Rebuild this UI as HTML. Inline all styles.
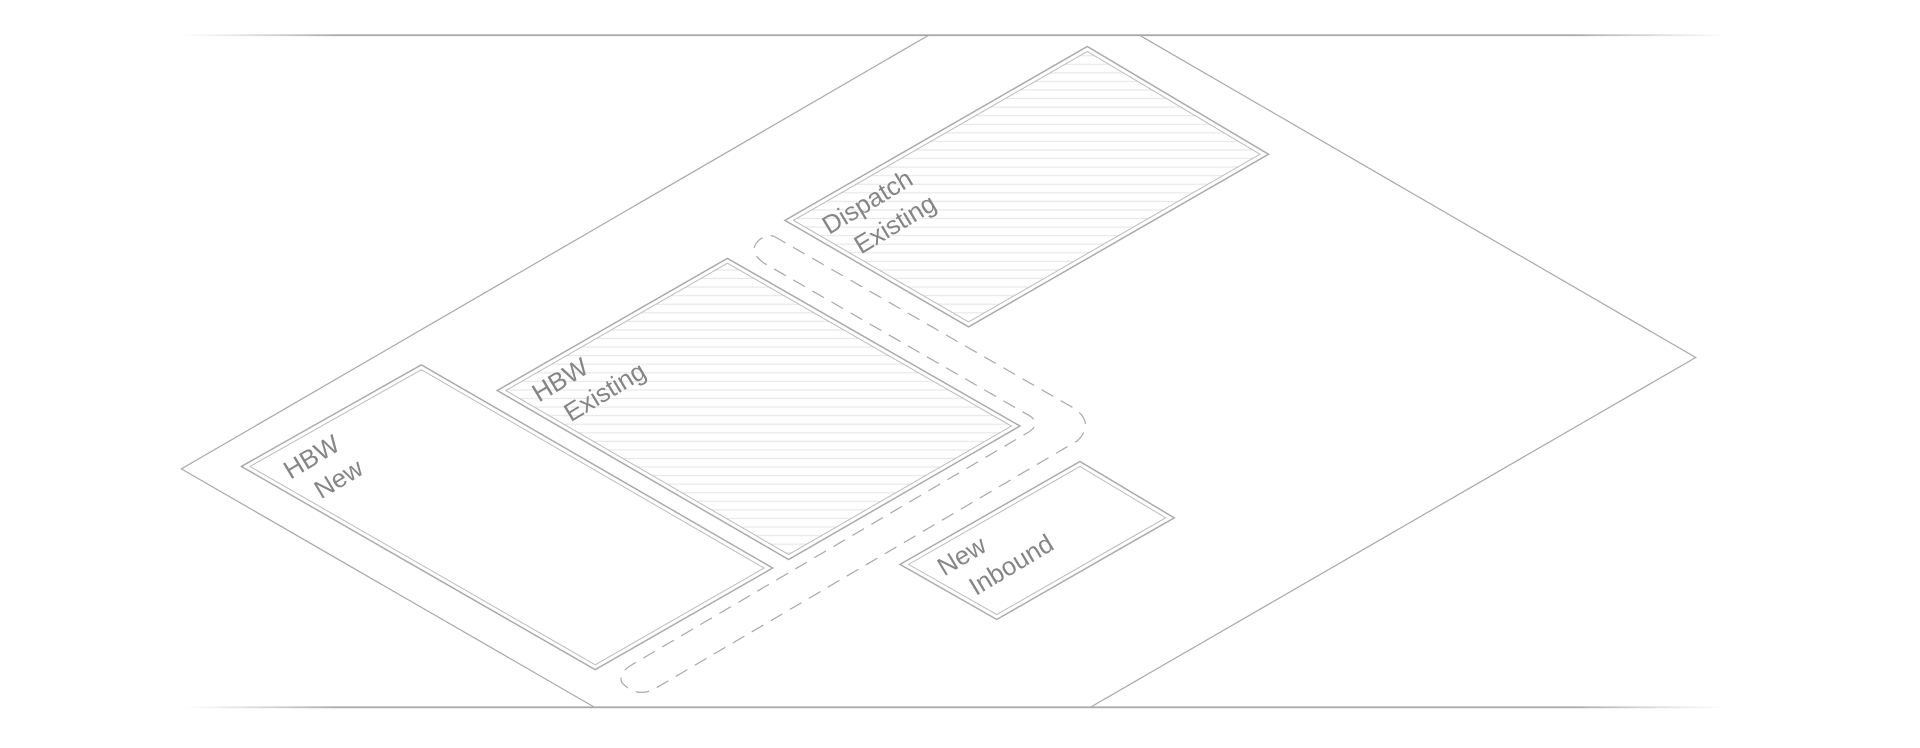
<!DOCTYPE html>
<html><head><meta charset="utf-8"><style>
html,body{margin:0;padding:0;background:#fff;width:1920px;height:748px;overflow:hidden}
svg{display:block}
text{font-family:"Liberation Sans",sans-serif;font-size:21px;fill:#858585;}
</style></head><body>
<svg width="1920" height="748" viewBox="0 0 1568 611" xmlns="http://www.w3.org/2000/svg">
<defs>
<linearGradient id="lg" x1="0" x2="1">
<stop offset="0" stop-color="#bbb" stop-opacity="0"/>
<stop offset="0.1" stop-color="#aaa"/>
<stop offset="0.9" stop-color="#aaa"/>
<stop offset="1" stop-color="#bbb" stop-opacity="0"/>
</linearGradient>
<pattern id="hatch" width="10" height="7" patternUnits="userSpaceOnUse">
<line x1="0" y1="3.5" x2="10" y2="3.5" stroke="#e8e8e8" stroke-width="1"/>
</pattern>
</defs>
<rect x="150" y="28" width="1260" height="1.5" fill="url(#lg)"/>
<rect x="150" y="577" width="1260" height="1.5" fill="url(#lg)"/>
<g fill="none" stroke="#aaa" stroke-width="1">
<polyline points="758,29 148,383 486,578"/>
<polyline points="931,29 1385,292 890,578"/>
</g>
<polygon points="197,381 344,298 631,464 486,547" fill="none" stroke="#aaa" stroke-width="1.2"/>
<polygon points="204,381 344,302 624,464 486,543" fill="none" stroke="#bbb" stroke-width="0.8"/>
<polygon points="406,319 594,211 833,348 644,457" fill="none" stroke="#aaa" stroke-width="1.2"/>
<polygon points="413,319 594,215 826,348 644,453" fill="url(#hatch)" stroke="#bbb" stroke-width="0.8"/>
<polygon points="641,180 888,38 1036,126 791,267" fill="none" stroke="#aaa" stroke-width="1.2"/>
<polygon points="648,180 888,42 1029,126 791,263" fill="url(#hatch)" stroke="#bbb" stroke-width="0.8"/>
<polygon points="735,461 882,377 959,423 814,506" fill="none" stroke="#aaa" stroke-width="1.2"/>
<polygon points="742,461 882,381 952,423 814,502" fill="none" stroke="#bbb" stroke-width="0.8"/>
<path d="M632,193 L878,334 Q894,346 880,360 L534,563 Q520,570 508,558 Q504,550 516,543 L840,353 Q852,345 838,338 L624,215 Q610,205 620,196 Q626,191 632,193 Z" fill="none" stroke="#aaa" stroke-width="1" stroke-dasharray="11,7"/>
<g>
<text transform="translate(237,392) rotate(-31)">HBW</text>
<text transform="translate(262,408) rotate(-31)">New</text>
<text transform="translate(440,329) rotate(-31)">HBW</text>
<text transform="translate(466,345) rotate(-31)">Existing</text>
<text transform="translate(677,192) rotate(-31)">Dispatch</text>
<text transform="translate(703,208) rotate(-31)">Existing</text>
<text transform="translate(771,471) rotate(-31)">New</text>
<text transform="translate(797,487) rotate(-31)">Inbound</text>
</g>
</svg>
</body></html>
